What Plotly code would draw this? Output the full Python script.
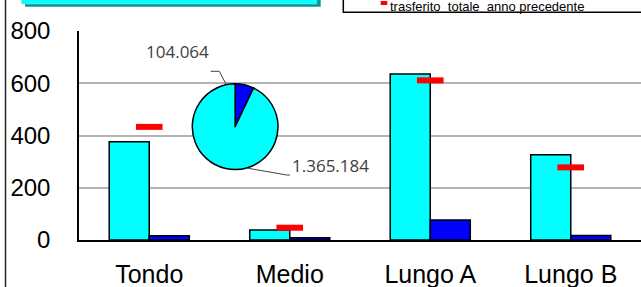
import plotly.graph_objects as go

# ---- data ----
categories = ["Tondo", "Medio", "Lungo A", "Lungo B"]
current_values = [376, 38, 635, 326]
blue_values = [16, 9, 77, 17]
previous_total = [433, 47, 611, 278]
pie_labels = ["blu", "ciano"]
pie_values = [104064, 1365184]
pie_text = ["104.064", "1.365.184"]
y_ticks = [0, 200, 400, 600, 800]
legend_text = "trasferito  totale  anno precedente"

W, H = 641, 287
ML, MR, MT, MB = 79, 0, 31, 47
PW, PH = W - ML - MR, H - MT - MB


def xp(px):
    # pixel -> plot-area ("paper") fraction
    return (px - ML) / PW


def yp(py):
    return (H - MB - py) / PH


fig = go.Figure()

fig.add_trace(go.Bar(
    x=categories, y=current_values, name="corrente",
    marker=dict(color="#00FFFF", line=dict(color="black", width=1.5)),
    showlegend=False,
))
fig.add_trace(go.Bar(
    x=categories, y=blue_values, name="blu",
    marker=dict(color="#0000FF", line=dict(color="black", width=1.5)),
    showlegend=False,
))
fig.add_trace(go.Scatter(
    x=categories, y=previous_total, mode="markers", name=legend_text,
    marker=dict(symbol="line-ew", size=19, color="#FF0000",
                line=dict(color="#FF0000", width=6)),
    showlegend=False,
))

fig.add_trace(go.Pie(
    labels=pie_labels, values=pie_values, sort=False,
    direction="counterclockwise", rotation=0,
    marker=dict(colors=["#0000FF", "#00FFFF"], line=dict(color="black", width=1.5)),
    textinfo="none", hoverinfo="label+value",
    domain=dict(x=[xp(192.3), xp(278)], y=[yp(169.7), yp(83.7)]),
    showlegend=False,
))

shapes = []
annotations = []

# pie labels with leader lines
pie_font = dict(family="Open Sans", size=17, color="#404040")
annotations.append(dict(text=pie_text[0], x=xp(177.5), y=yp(52), xref="paper", yref="paper",
                        showarrow=False, font=pie_font, xanchor="center", yanchor="middle"))
annotations.append(dict(text=pie_text[1], x=xp(330), y=yp(166), xref="paper", yref="paper",
                        showarrow=False, font=pie_font, xanchor="center", yanchor="middle"))
shapes.append(dict(type="path", xref="paper", yref="paper",
                   path=f"M {xp(210.7)} {yp(71.3)} L {xp(219.3)} {yp(71.3)} L {xp(226)} {yp(84)}",
                   line=dict(color="#404040", width=1)))
shapes.append(dict(type="path", xref="paper", yref="paper",
                   path=f"M {xp(248.3)} {yp(168.3)} L {xp(286.7)} {yp(175)} L {xp(290)} {yp(175)}",
                   line=dict(color="#404040", width=1)))

# left border of the chart area
shapes.append(dict(type="line", xref="paper", yref="paper",
                   x0=xp(5.5), x1=xp(5.5), y0=yp(H + 5), y1=yp(-5),
                   line=dict(color="#222222", width=1.5)))

# title box (clipped at top) with shadow
shapes.append(dict(type="rect", xref="paper", yref="paper",
                   x0=xp(25), x1=xp(320.7), y0=yp(6.7), y1=yp(-20),
                   fillcolor="#009999", line=dict(width=0)))
shapes.append(dict(type="rect", xref="paper", yref="paper",
                   x0=xp(21.5), x1=xp(316.7), y0=yp(4), y1=yp(-20),
                   fillcolor="#00FFFF", line=dict(color="#cccccc", width=0.5)))

# legend box (clipped at top and right)
shapes.append(dict(type="rect", xref="paper", yref="paper",
                   x0=xp(343.3), x1=xp(680), y0=yp(12.3), y1=yp(-30),
                   fillcolor="white", line=dict(color="black", width=1.5)))
shapes.append(dict(type="rect", xref="paper", yref="paper",
                   x0=xp(380.7), x1=xp(387.3), y0=yp(5), y1=yp(1),
                   fillcolor="#FF0000", line=dict(width=0)))
annotations.append(dict(text=legend_text, x=xp(389), y=yp(6.5), xref="paper", yref="paper",
                        showarrow=False, xanchor="left", yanchor="middle", borderpad=0,
                        font=dict(family="Liberation Sans", size=13, color="black")))

fig.update_layout(
    width=W, height=H,
    margin=dict(l=ML, r=MR, t=MT, b=MB, autoexpand=False),
    paper_bgcolor="white", plot_bgcolor="white",
    barmode="group", bargap=0.43, bargroupgap=0,
    shapes=shapes, annotations=annotations,
    font=dict(family="Liberation Sans", color="black"),
)
fig.update_xaxes(
    type="category", range=[-0.5, 3.5], automargin=False,
    showline=True, linecolor="black", linewidth=2,
    ticks="", tickfont=dict(size=25, family="Liberation Sans", color="black"),
    ticklabelstandoff=11, showgrid=False,
)
fig.update_yaxes(
    range=[0, 800], tickvals=y_ticks, ticktext=[str(v) for v in y_ticks],
    automargin=False,
    showline=True, linecolor="black", linewidth=1.5,
    showgrid=True, gridcolor="#b4b4b4", gridwidth=2,
    zeroline=False, ticks="",
    tickfont=dict(size=24, family="Liberation Sans", color="black"),
    ticklabelstandoff=22,
)

fig.write_html("out.html",
               config={"displayModeBar": False},
               post_script="document.body.style.margin='0px';document.body.style.overflow='hidden';")
